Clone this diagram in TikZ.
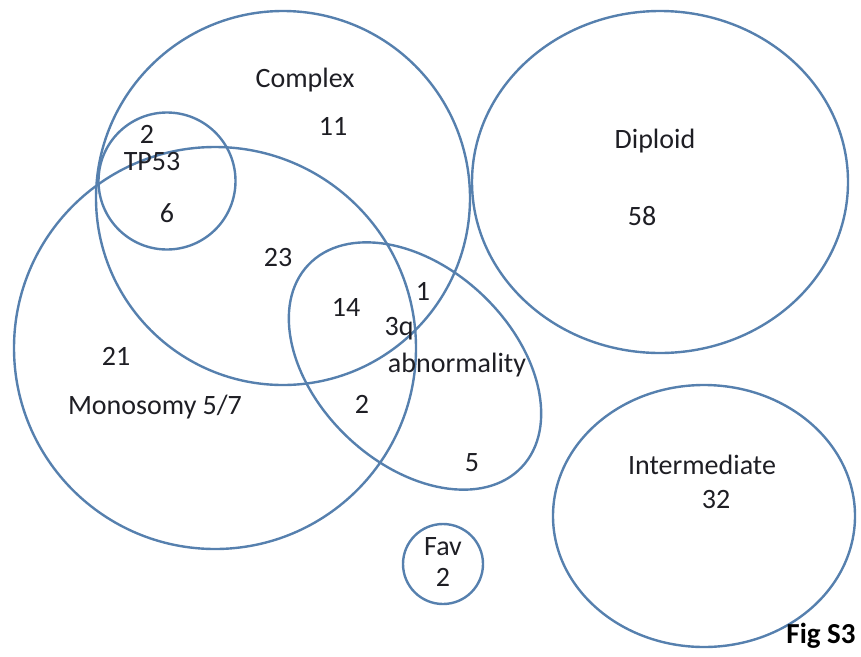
\documentclass[tikz,border=0pt]{standalone}
\usepackage{fontspec}
\setmainfont{Carlito}
\definecolor{setblue}{RGB}{86,128,174}
\definecolor{labelink}{RGB}{30,30,36}
\tikzset{
  setline/.style={draw=setblue, line width=2.4pt},
  lbl/.style={inner sep=0pt, text=labelink, font=\fontsize{28}{30}\selectfont}
}
\begin{document}
\begin{tikzpicture}[x=1pt, y=-1pt]
        \useasboundingbox (0,0) rectangle (861,656);

        \draw[setline] (283,198) circle[radius=187];   % complex
        \draw[setline] (167,181) circle[radius=68.5];  % tp53
        \draw[setline] (215,348) circle[radius=201];   % monosomy
        \draw[setline, rotate around={-43.5:(415,366)}] (415,366) ellipse[x radius=147, y radius=98];
        \draw[setline] (660,182) ellipse[x radius=188, y radius=171];
        \draw[setline] (704,516) ellipse[x radius=151, y radius=131];
        \draw[setline] (443,564) circle[radius=40];

        \node[lbl] (cpx) at (305,80) {Complex};
        \node[lbl] (n11) at (333,126) {11};
        \node[lbl] (n2a) at (147,134) {2};
        \node[lbl] (tp) at (152,162) {TP53};
        \node[lbl] (n6) at (167,213) {6};
        \node[lbl] (n23) at (278,258) {23};
        \node[lbl] (n14) at (346,307) {14};
        \node[lbl] (n1) at (423,291) {1};
        \node[lbl] (tq) at (399,329) {3q};
        \node[lbl] (abn) at (457,365) {abnormality};
        \node[lbl] (n21) at (116,356) {21};
        \node[lbl] (mono) at (155,407) {Monosomy 5/7};
        \node[lbl] (n2b) at (362,404) {2};
        \node[lbl] (n5) at (472,463) {5};
        \node[lbl] (dip) at (655,141) {Diploid};
        \node[lbl] (n58) at (642,216) {58};
        \node[lbl] (inter) at (702,465) {Intermediate};
        \node[lbl] (n32) at (716,500) {32};
        \node[lbl] (fav) at (443,547) {Fav};
        \node[lbl] (n2c) at (443,577) {2};
        \node[lbl, font=\fontsize{29}{31}\selectfont\bfseries, text=black] (fig) at (821,636) {Fig S3};
    \end{tikzpicture}
\end{document}
